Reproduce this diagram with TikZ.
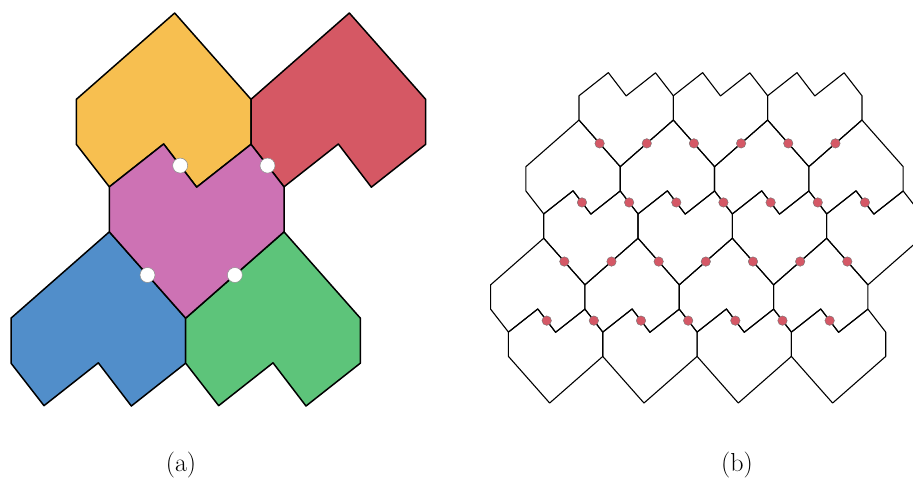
\documentclass[tikz,border=0pt]{standalone}
\usepackage{tikz}
\definecolor{cYel}{RGB}{247,191,80}
\definecolor{cRed}{RGB}{213,88,100}
\definecolor{cPnk}{RGB}{205,114,180}
\definecolor{cBlu}{RGB}{81,142,202}
\definecolor{cGrn}{RGB}{93,196,122}
\definecolor{cDot}{RGB}{213,88,102}
\newcommand\tileY[3]{%
  \draw[#3] ({174.67+#1},{13+#2}) -- ({76.33+#1},{99.33+#2}) -- ({76.33+#1},{144.33+#2})
   -- ({109.33+#1},{186.83+#2}) -- ({163.67+#1},{144+#2}) -- ({196.67+#1},{187.17+#2})
   -- ({251+#1},{144.33+#2}) -- ({251+#1},{99.33+#2}) -- cycle;}
\newcommand\tileP[3]{%
  \draw[#3] ({185.67+#1},{318.17+#2}) -- ({284+#1},{231.83+#2}) -- ({284+#1},{186.83+#2})
   -- ({251+#1},{144.33+#2}) -- ({196.67+#1},{187.17+#2}) -- ({163.67+#1},{144+#2})
   -- ({109.33+#1},{186.83+#2}) -- ({109.33+#1},{231.83+#2}) -- cycle;}
\tikzset{
  tileA/.style={draw=black, line width=1.5pt, line join=round},
  tileB/.style={draw=black, line width=1.1pt, line join=round},
  wdot/.style={circle, draw=black!45, line width=0.5pt, fill=white, inner sep=0pt, minimum size=15pt},
  rdot/.style={circle, draw=black!55, line width=0.4pt, fill=cDot, inner sep=0pt, minimum size=9.5pt},
  lab/.style={font=\fontsize{26}{30}\selectfont}
}
\begin{document}
\begin{tikzpicture}[x=1pt,y=-1pt]
\useasboundingbox (0,0) rectangle (913,480);
% ---------- (a) ----------
\tileY{0}{0}{tileA, fill=cYel}
\tileY{174.67}{0}{tileA, fill=cRed}
\tileY{-65.33}{218.83}{tileA, fill=cBlu}
\tileY{109.34}{218.83}{tileA, fill=cGrn}
\tileP{0}{0}{tileA, fill=cPnk}
\node[wdot] (a1) at (180.17,165.58) {};
\node[wdot] (a2) at (267.5,165.58) {};
\node[wdot] (a3) at (147.5,275) {};
\node[wdot] (a4) at (234.83,275) {};
\node[lab] (la) at (181,465) {(a)};
% ---------- (b) ----------
\begin{scope}
\clip (470,0) rectangle (913,480);
\begin{scope}[shift={(519.96,-5.13)}, scale=0.54]
\foreach \m in {0,1,2} {\tileP{\m*174.67}{0}{tileB}}
\foreach \m in {0,1,2,3} {\tileY{\m*174.67-65.33}{218.83}{tileB}}
\foreach \m in {0,1,2,3} {\tileP{\m*174.67-65.33}{218.83}{tileB}}
\foreach \m in {0,1,2,3} {\tileY{\m*174.67-130.67}{437.67}{tileB}}
\foreach \m in {0,1,2,3} {\tileP{\m*174.67-130.67}{437.67}{tileB}}
% dots
\foreach \m in {0,1,2} {
  \node[rdot] (r0h\m) at ({147.5+\m*174.67},275) {};
  \node[rdot] (r0b\m) at ({234.83+\m*174.67},275) {};
}
\foreach \m in {0,1,2,3} {
  \node[rdot] (r2e\m) at ({180.17+\m*174.67-65.33},{165.58+218.83}) {};
  \node[rdot] (r2h\m) at ({147.5+\m*174.67-65.33},{275+218.83}) {};
  \node[rdot] (r4e\m) at ({180.17+\m*174.67-130.67},{165.58+437.67}) {};
}
\foreach \m in {0,1,2} {
  \node[rdot] (r2d\m) at ({267.5+\m*174.67-65.33},{165.58+218.83}) {};
  \node[rdot] (r2b\m) at ({234.83+\m*174.67-65.33},{275+218.83}) {};
  \node[rdot] (r4d\m) at ({267.5+\m*174.67-130.67},{165.58+437.67}) {};
}
\end{scope}
\end{scope}
\node[lab] (lb) at (737,465) {(b)};
\end{tikzpicture}
\end{document}
